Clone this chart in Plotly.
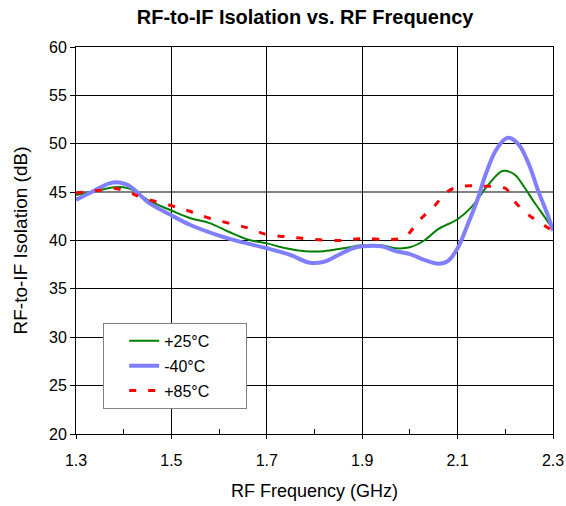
import plotly.graph_objects as go

f_25 = [1.30, 1.34, 1.38, 1.40, 1.42, 1.45, 1.50, 1.54, 1.58, 1.62, 1.66, 1.70, 1.74, 1.78, 1.82, 1.86,
        1.90, 1.94, 1.97, 2.00, 2.03, 2.06, 2.10, 2.13, 2.16, 2.19, 2.20, 2.22, 2.24, 2.26, 2.28, 2.30]
v_25 = [44.7, 45.1, 45.5, 45.5, 45.2, 44.2, 43.1, 42.3, 41.8, 40.9, 40.1, 39.7, 39.2, 38.9, 38.9, 39.2,
        39.5, 39.5, 39.2, 39.3, 40.0, 41.2, 42.2, 43.5, 45.5, 47.1, 47.2, 46.8, 45.5, 44.0, 42.6, 41.2]

f_m40 = [1.30, 1.34, 1.37, 1.39, 1.41, 1.43, 1.45, 1.50, 1.54, 1.60, 1.65, 1.70, 1.75, 1.79, 1.82, 1.85,
         1.88, 1.90, 1.94, 1.97, 2.00, 2.03, 2.06, 2.08, 2.10, 2.12, 2.14, 2.16, 2.18, 2.20, 2.21, 2.23,
         2.25, 2.27, 2.29, 2.30]
v_m40 = [44.2, 45.2, 45.9, 46.0, 45.7, 44.9, 44.0, 42.6, 41.6, 40.5, 39.8, 39.2, 38.5, 37.7, 37.8, 38.5,
         39.2, 39.4, 39.4, 38.9, 38.6, 38.0, 37.6, 37.9, 39.2, 41.5, 44.0, 47.0, 49.3, 50.5, 50.6, 49.8,
         47.8, 45.0, 42.5, 41.0]

f_85 = [1.30, 1.35, 1.38, 1.41, 1.44, 1.50, 1.54, 1.58, 1.66, 1.70, 1.74, 1.78, 1.85, 1.90, 1.96, 1.99,
        2.02, 2.05, 2.08, 2.11, 2.15, 2.20, 2.22, 2.25, 2.29, 2.30]
v_85 = [44.9, 45.2, 45.4, 45.0, 44.4, 43.6, 43.0, 42.3, 41.3, 40.6, 40.4, 40.2, 40.0, 40.2, 40.1, 40.4,
        42.1, 43.5, 45.1, 45.6, 45.6, 45.4, 44.0, 42.6, 41.3, 41.0]

x_ticks = [1.3, 1.5, 1.7, 1.9, 2.1, 2.3]
y_ticks = [20, 25, 30, 35, 40, 45, 50, 55, 60]
y_grid_black = [25, 30, 35, 40, 50, 55]
y_grid_gray = 45

FONT = "Liberation Sans, Arial, sans-serif"
PAD = "\u00a0" * 7

fig = go.Figure()
fig.add_trace(go.Scatter(x=f_25, y=v_25, mode="lines", name="+25°C" + PAD, legendgroup="a",
                         line=dict(color="#008000", width=2, shape="spline")))
fig.add_trace(go.Scatter(x=f_m40, y=v_m40, mode="lines", name="-40°C" + PAD, legendgroup="b",
                         line=dict(color="#8080FF", width=4, shape="spline")))
fig.add_trace(go.Scatter(x=f_85, y=v_85, mode="lines", name="+85°C" + PAD, legendgroup="c",
                         line=dict(color="#FF0000", width=3, dash="7px,12px", shape="spline")))

fig.add_hline(y=y_grid_gray, line=dict(color="#808080", width=2), layer="below")

fig.update_layout(
    width=566, height=506,
    margin=dict(l=76, r=13, t=47, b=72, autoexpand=False),
    paper_bgcolor="white", plot_bgcolor="white",
    font=dict(family=FONT, color="black", size=16),
    title=dict(text="<b>RF-to-IF Isolation vs. RF Frequency</b>", x=0.539, xanchor="center",
               y=0.966, yanchor="middle", font=dict(size=20, family=FONT)),
    showlegend=True,
    legend=dict(x=0.057, y=0.287, xanchor="left", yanchor="top",
                bordercolor="#808080", borderwidth=1, bgcolor="white",
                tracegroupgap=1, indentation=20,
                font=dict(size=16, family=FONT)),
)
fig.update_xaxes(range=[1.3, 2.3], tickvals=x_ticks, ticktext=[f"{t:.1f}" for t in x_ticks],
                 showgrid=True, gridcolor="black", gridwidth=1, automargin=False,
                 showline=True, linecolor="black", linewidth=1, mirror=True,
                 ticks="outside", ticklen=4, tickcolor="black", ticklabelstandoff=8,
                 minor=dict(tickvals=[1.4, 1.6, 1.8, 2.0, 2.2], ticks="inside", ticklen=5,
                            tickcolor="black", showgrid=False),
                 title=dict(text="RF Frequency (GHz)", font=dict(size=18), standoff=16),
                 zeroline=False, tickfont=dict(size=16))
fig.update_yaxes(range=[20, 60], tickvals=y_ticks, automargin=False,
                 showgrid=False,
                 showline=True, linecolor="black", linewidth=1, mirror=True,
                 ticks="outside", ticklen=5, tickcolor="black",
                 minor=dict(tickvals=y_grid_black, ticks="", showgrid=True,
                            gridcolor="black", gridwidth=1),
                 title=dict(text="RF-to-IF Isolation (dB)", font=dict(size=19), standoff=16),
                 zeroline=False, tickfont=dict(size=16))

fig.write_html("out.html")
